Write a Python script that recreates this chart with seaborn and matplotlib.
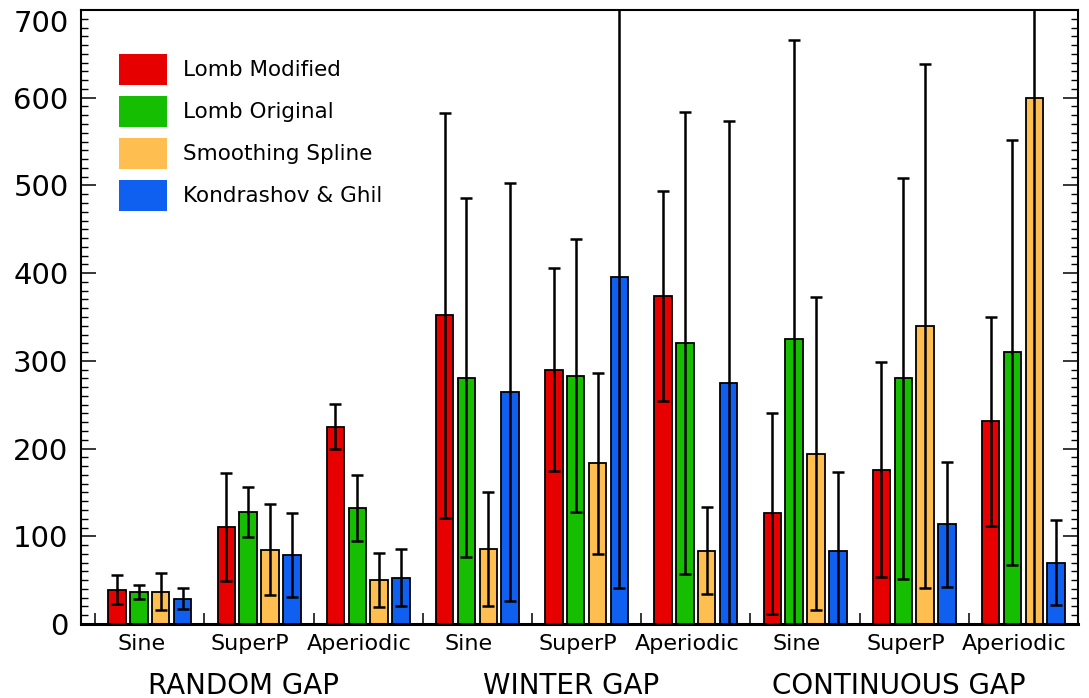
import numpy as np
import pandas as pd
import matplotlib
matplotlib.use("Agg")
import matplotlib.pyplot as plt
import matplotlib.transforms as mtransforms
from matplotlib.patches import Patch
from matplotlib.ticker import MultipleLocator
import seaborn as sns

# ---- data -------------------------------------------------------------
methods = ["Lomb Modified", "Lomb Original", "Smoothing Spline", "Kondrashov & Ghil"]
signals = ["Sine", "SuperP", "Aperiodic", "Sine", "SuperP", "Aperiodic", "Sine", "SuperP", "Aperiodic"]
gaps = ["RANDOM GAP", "WINTER GAP", "CONTINUOUS GAP"]

lomb_modified = [39, 110.6, 225, 352, 290, 374, 126, 176, 231]
lomb_modified_err = [16.7, 61.6, 25.5, 231, 115.6, 119.4, 114.4, 122.5, 119.5]
lomb_original = [36.7, 127.5, 132.3, 280.7, 283.3, 320, 325, 280, 310]
lomb_original_err = [7.8, 28.7, 37.2, 204.4, 155.9, 263.5, 341, 228.5, 242.3]
smoothing_spline = [37, 84.7, 50.3, 86, 183, 83.8, 194, 339.7, 600]
smoothing_spline_err = [21.5, 52, 31, 65, 103, 49.8, 178.3, 299, 640]
kondrashov_ghil = [28.7, 79, 53, 264.6, 395.5, 274.7, 83, 113.7, 70]
kondrashov_ghil_err = [12, 48, 33, 238, 355, 298.5, 90, 71, 48.7]

colors = ["#e60000", "#16be00", "#ffbe50", "#0f5ff0"]

values = [lomb_modified, lomb_original, smoothing_spline, kondrashov_ghil]
errors = [lomb_modified_err, lomb_original_err, smoothing_spline_err, kondrashov_ghil_err]

cases = [f"{gaps[i // 3]}|{signals[i]}" for i in range(len(signals))]
df = pd.DataFrame({
    "case": np.repeat([cases], len(methods), axis=0).ravel(),
    "method": np.repeat(methods, len(cases)),
    "value": np.concatenate(values),
})

# ---- figure -----------------------------------------------------------
sns.set_style("ticks")
plt.rcParams["font.family"] = ["DejaVu Sans"]
for key in ["text.color", "axes.labelcolor", "xtick.color", "ytick.color",
            "axes.edgecolor"]:
    plt.rcParams[key] = "black"

fig = plt.figure(figsize=(10.89, 6.98), dpi=100)
ax = fig.add_axes([0.0744, 0.106, 0.9155, 0.8797])

sns.barplot(data=df, x="case", y="value", hue="method", order=cases,
            hue_order=methods, palette=colors, saturation=1,
            width=0.8, gap=0.2, errorbar=None, edgecolor="black",
            linewidth=1.3, legend=False, ax=ax)

centers = []
for cont, err in zip(ax.containers, errors):
    xs = [b.get_x() + b.get_width() / 2 for b in cont]
    ys = [b.get_height() for b in cont]
    centers.extend(xs)
    ax.errorbar(xs, ys, yerr=err, fmt="none", ecolor="black",
                elinewidth=1.8, capsize=4.5, capthick=1.8, zorder=3)

ax.set_xlim(-0.63, 8.49)
ax.set_ylim(0, 700)
ax.set_xlabel("")
ax.set_ylabel("")

# x ticks: one per bar plus a separator between every pair of cases
separators = [i - 0.5 for i in range(len(cases) + 1)]
ax.set_xticks(sorted(centers + separators))
ax.set_xticklabels([])
ax.tick_params(axis="x", which="major", direction="in", length=8,
               width=1.1, bottom=True, top=False, labelbottom=False)

ax.set_yticks(range(0, 701, 100))
ax.yaxis.set_minor_locator(MultipleLocator(10))
ax.tick_params(axis="y", which="major", direction="in", length=11,
               width=1.1, left=True, right=True, labelsize=21, pad=9)
ax.tick_params(axis="y", which="minor", direction="in", length=5,
               width=1.0, left=True, right=True)
ax.yaxis.get_major_ticks()[-1].label1.set_va("top")

for side in ["left", "right", "top", "bottom"]:
    ax.spines[side].set_visible(True)
    ax.spines[side].set_linewidth(1.5)
    ax.spines[side].set_color("black")
ax.spines["bottom"].set_linewidth(2.2)

trans = mtransforms.blended_transform_factory(ax.transData, ax.transAxes)
for i, s in enumerate(signals):
    ax.text(i - 0.08, -0.016, s, transform=trans, ha="center", va="top",
            fontsize=16)
for j, g in enumerate(gaps):
    ax.text(3 * j + 1 - 0.14, -0.101, g, transform=trans, ha="center",
            va="center", fontsize=20)

handles = [Patch(facecolor=c, edgecolor="none") for c in colors]
ax.legend(handles, methods, loc="upper left", bbox_to_anchor=(0.038, 0.929),
          frameon=False, fontsize=15.5, handlelength=2.25, handleheight=1.86,
          handletextpad=0.75, labelspacing=0.5, borderpad=0, borderaxespad=0)

fig.savefig("out.png", dpi=100)
